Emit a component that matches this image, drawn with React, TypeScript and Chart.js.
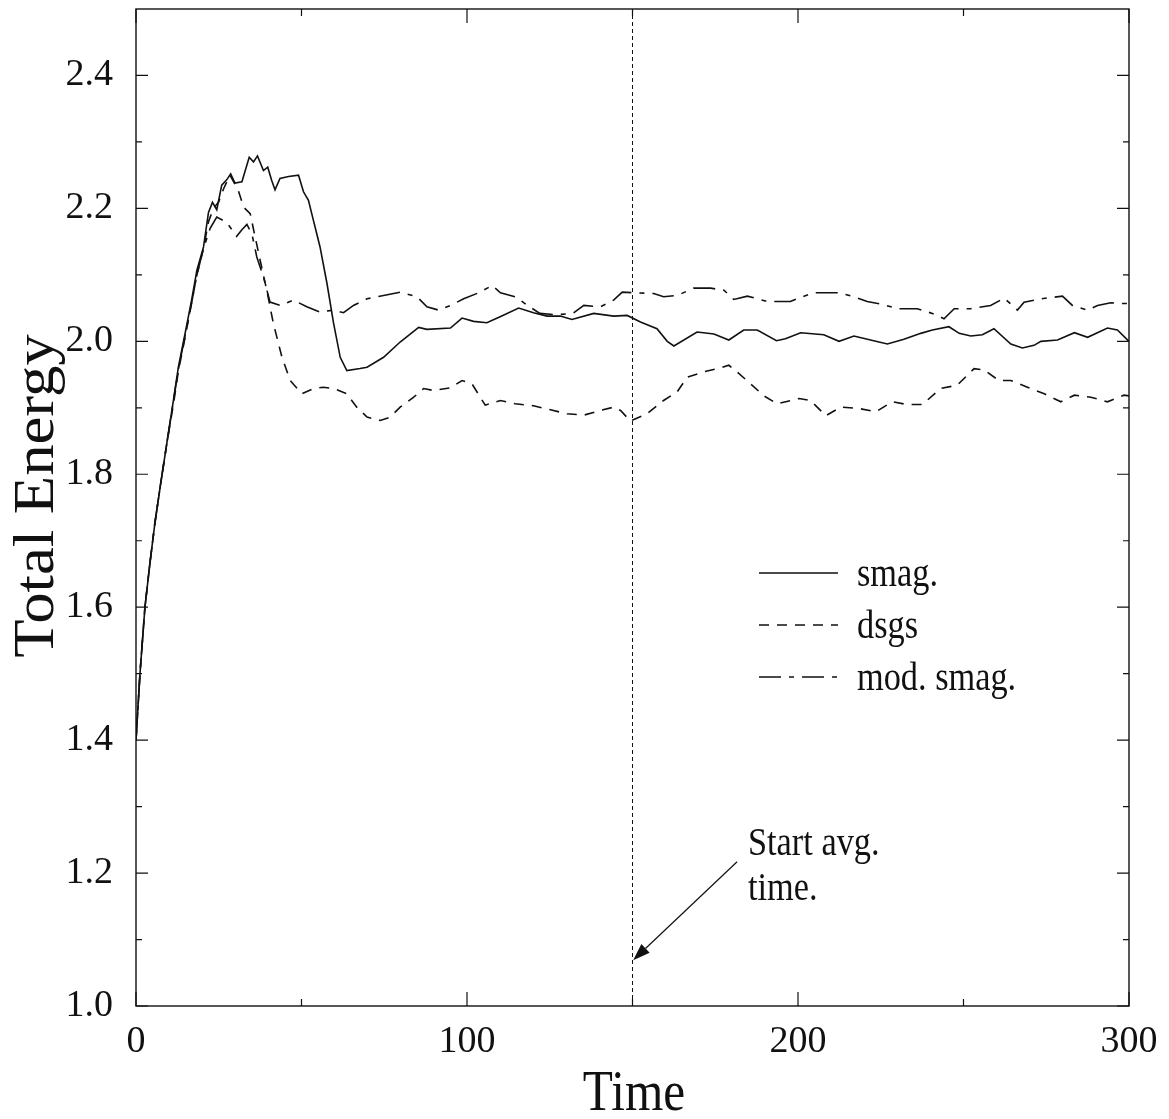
import React, { useEffect, useRef } from "react";
import { Chart, registerables } from "chart.js";

Chart.register(...registerables);

// ---------- data ----------
const smagTime = [0, 1.2, 2.7, 4.2, 5.7, 7.3, 9.3, 11.3, 12.8, 14.8, 16.8, 18.4, 20.4, 21.9, 23.1, 24.4, 25.9, 27.4, 28.6, 29.9, 32, 34.2, 35.5, 36.7, 38.5, 39.8, 41, 42, 43.5, 46.1, 49.1, 50.6, 52.1, 53.6, 55.6, 57.7, 59.7, 61.7, 63.7, 67.7, 69.8, 74.8, 79.8, 85.4, 87.9, 95, 98.5, 102, 106, 110, 115.6, 120.1, 124.2, 128.2, 131.7, 138.3, 144.3, 148.4, 152.4, 157.4, 160.5, 162.5, 169.5, 174.6, 179.1, 183.6, 187.7, 193.5, 196.2, 200.8, 207.8, 212.4, 216.9, 221.9, 227, 232, 237.1, 240.6, 245.6, 248.7, 252.2, 255.7, 259.2, 264.3, 267.8, 271.3, 273.4, 278.4, 283.5, 287.5, 293.5, 296.5, 300];
const smagEnergy = [1.40, 1.50, 1.60, 1.666, 1.726, 1.781, 1.846, 1.911, 1.961, 2.011, 2.062, 2.107, 2.142, 2.194, 2.209, 2.198, 2.235, 2.243, 2.252, 2.238, 2.24, 2.277, 2.27, 2.279, 2.257, 2.262, 2.242, 2.228, 2.245, 2.248, 2.25, 2.225, 2.212, 2.182, 2.142, 2.087, 2.027, 1.976, 1.956, 1.959, 1.961, 1.976, 1.999, 2.021, 2.018, 2.02, 2.035, 2.03, 2.028, 2.037, 2.05, 2.043, 2.038, 2.038, 2.033, 2.042, 2.038, 2.039, 2.029, 2.019, 2.0, 1.993, 2.014, 2.011, 2.002, 2.017, 2.017, 2.001, 2.004, 2.013, 2.01, 2.0, 2.008, 2.002, 1.996, 2.003, 2.012, 2.017, 2.022, 2.012, 2.008, 2.01, 2.019, 1.996, 1.99, 1.994, 2.0, 2.002, 2.013, 2.006, 2.02, 2.017, 2.0];

const dsgsTime = [0, 1.2, 2.7, 4.2, 5.7, 7.3, 9.3, 11.3, 12.8, 14.8, 16.8, 18.4, 20.4, 21.9, 23.4, 25, 26.5, 28.4, 30.9, 32.5, 34.5, 36, 37.5, 39.5, 41.5, 44.1, 46.6, 50.1, 53.6, 56.6, 59.7, 63.7, 66.7, 69.8, 73.8, 76.8, 79.8, 83.9, 86.9, 89.9, 95, 98.5, 101.5, 105.5, 110.1, 114.6, 120.1, 125.2, 130.2, 135.3, 140.3, 144.3, 146.4, 149.4, 154.4, 159.4, 163.5, 166.5, 171.5, 176.6, 179.1, 181.6, 185.7, 189.7, 193.7, 200.3, 203.8, 208.4, 212.9, 218.4, 223.5, 228.5, 233, 237.6, 243.1, 248.1, 253.2, 256.2, 260.7, 264.3, 269.3, 274.4, 279.4, 283.5, 288.5, 293.5, 298.5, 300];
const dsgsEnergy = [1.40, 1.50, 1.60, 1.666, 1.726, 1.781, 1.846, 1.905, 1.955, 2.005, 2.058, 2.1, 2.14, 2.18, 2.2, 2.21, 2.23, 2.25, 2.227, 2.202, 2.192, 2.157, 2.122, 2.077, 2.027, 1.976, 1.941, 1.921, 1.929, 1.931, 1.929, 1.921, 1.901, 1.886, 1.881, 1.886, 1.901, 1.916, 1.929, 1.926, 1.93, 1.941, 1.936, 1.904, 1.911, 1.906, 1.903, 1.897, 1.891, 1.889, 1.896, 1.901, 1.896, 1.88, 1.891, 1.911, 1.924, 1.946, 1.954, 1.96, 1.964, 1.954, 1.936, 1.918, 1.906, 1.914, 1.911, 1.888, 1.901, 1.899, 1.894, 1.909, 1.905, 1.905, 1.929, 1.934, 1.959, 1.957, 1.941, 1.941, 1.931, 1.921, 1.909, 1.919, 1.916, 1.909, 1.919, 1.918];

const modTime = [0, 1.2, 2.7, 4.2, 5.7, 7.3, 9.3, 11.3, 12.8, 14.8, 16.8, 18.4, 20.4, 22.4, 24.4, 27.4, 30.4, 32, 33.5, 35, 36.5, 38.5, 40.5, 43.5, 47.6, 51.6, 55.6, 59.7, 62.7, 65.7, 69.8, 74.8, 79.8, 84.9, 87.9, 91.4, 95, 99, 103.5, 107.6, 110.1, 114.6, 118, 122, 127, 132, 135.3, 140.3, 144.3, 146.9, 150.4, 156.4, 159.4, 163.5, 168.5, 173.6, 177.6, 180.6, 184.7, 190.7, 197.7, 201.3, 204.8, 212.4, 216.9, 220.9, 226, 230, 236, 240.6, 244.1, 247.2, 252.2, 258.2, 262.3, 266.3, 268.3, 273.4, 279.9, 282.9, 287.5, 290.5, 294.5, 298, 300];
const modEnergy = [1.40, 1.50, 1.60, 1.666, 1.726, 1.781, 1.846, 1.91, 1.958, 2.008, 2.058, 2.1, 2.14, 2.17, 2.187, 2.179, 2.158, 2.168, 2.176, 2.162, 2.127, 2.097, 2.059, 2.054, 2.062, 2.052, 2.044, 2.047, 2.043, 2.054, 2.064, 2.069, 2.074, 2.067, 2.052, 2.047, 2.054, 2.064, 2.073, 2.084, 2.073, 2.067, 2.055, 2.042, 2.04, 2.042, 2.054, 2.052, 2.062, 2.074, 2.073, 2.072, 2.067, 2.069, 2.08, 2.08, 2.077, 2.063, 2.068, 2.06, 2.06, 2.067, 2.073, 2.073, 2.067, 2.06, 2.055, 2.049, 2.049, 2.042, 2.034, 2.049, 2.049, 2.054, 2.065, 2.047, 2.059, 2.064, 2.068, 2.054, 2.047, 2.054, 2.058, 2.057, 2.057];

const seriesLabels = ["smag.", "dsgs", "mod. smag."];
const xTickValues = [0, 100, 200, 300];
const xMinorTicks = [50, 150, 250];
const yTickValues = [1.0, 1.2, 1.4, 1.6, 1.8, 2.0, 2.2, 2.4];
const yMinorTicks = [1.1, 1.3, 1.5, 1.7, 1.9, 2.1, 2.3];
const startAvgTime = 150;
const startLineRange = [1.0, 2.5];
const arrowTail = { x: 181.6, y: 1.217 };
const arrowTip = { x: 150.2, y: 1.069 };
const annotationLines = ["Start avg.", "time."];

const FONT = '"Liberation Serif", "Times New Roman", serif';
const INK = "#111";

const dashes: number[][] = [[], [10, 8], [22, 8, 5, 8]];

function toPoints(t: number[], e: number[]) {
  return t.map((v, i) => ({ x: v, y: e[i] }));
}

function drawScaledText(
  ctx: CanvasRenderingContext2D,
  text: string,
  x: number,
  y: number,
  size: number,
  sx: number,
  align: CanvasTextAlign,
  rotate = 0
) {
  ctx.save();
  ctx.translate(x, y);
  if (rotate) ctx.rotate(rotate);
  ctx.scale(sx, 1);
  ctx.font = `${size}px ${FONT}`;
  ctx.textAlign = align;
  ctx.textBaseline = "alphabetic";
  ctx.fillStyle = INK;
  ctx.fillText(text, 0, 0);
  ctx.restore();
}

const decorPlugin = {
  id: "decor",
  afterDatasetsDraw(chart: any) {
    const { ctx, chartArea: a, scales } = chart;
    const xs = scales.x;
    const ys = scales.y;
    ctx.save();
    // frame
    ctx.strokeStyle = INK;
    ctx.lineWidth = 1.4;
    ctx.setLineDash([]);
    ctx.strokeRect(a.left, a.top, a.right - a.left, a.bottom - a.top);
    // inward ticks
    ctx.lineWidth = 1.2;
    ctx.beginPath();
    const yTick = (v: number, len: number) => {
      const p = ys.getPixelForValue(v);
      ctx.moveTo(a.left, p);
      ctx.lineTo(a.left + len, p);
      ctx.moveTo(a.right, p);
      ctx.lineTo(a.right - len, p);
    };
    const xTick = (v: number, len: number) => {
      const p = xs.getPixelForValue(v);
      ctx.moveTo(p, a.bottom);
      ctx.lineTo(p, a.bottom - len);
      ctx.moveTo(p, a.top);
      ctx.lineTo(p, a.top + len);
    };
    yTickValues.forEach((v) => yTick(v, 12));
    yMinorTicks.forEach((v) => yTick(v, 6));
    xTickValues.forEach((v) => xTick(v, 14));
    xMinorTicks.forEach((v) => xTick(v, 7));
    ctx.stroke();

    // arrow
    const tx = xs.getPixelForValue(arrowTail.x);
    const ty = ys.getPixelForValue(arrowTail.y);
    const hx = xs.getPixelForValue(arrowTip.x);
    const hy = ys.getPixelForValue(arrowTip.y);
    const ang = Math.atan2(hy - ty, hx - tx);
    const headLen = 17;
    const headHalf = 6;
    const bx = hx - headLen * Math.cos(ang);
    const by = hy - headLen * Math.sin(ang);
    ctx.lineWidth = 1.2;
    ctx.beginPath();
    ctx.moveTo(tx, ty);
    ctx.lineTo(bx, by);
    ctx.stroke();
    ctx.fillStyle = INK;
    ctx.beginPath();
    ctx.moveTo(hx, hy);
    ctx.lineTo(bx + headHalf * Math.sin(ang), by - headHalf * Math.cos(ang));
    ctx.lineTo(bx - headHalf * Math.sin(ang), by + headHalf * Math.cos(ang));
    ctx.closePath();
    ctx.fill();

    // annotation text
    drawScaledText(ctx, annotationLines[0], 748, 855, 39, 0.88, "left");
    drawScaledText(ctx, annotationLines[1], 748, 900, 39, 0.88, "left");

    // legend
    const legendY = [573, 625, 677];
    seriesLabels.forEach((lab, i) => {
      ctx.save();
      ctx.strokeStyle = INK;
      ctx.lineWidth = 1.5;
      ctx.setLineDash(dashes[i]);
      ctx.beginPath();
      ctx.moveTo(759, legendY[i]);
      ctx.lineTo(838, legendY[i]);
      ctx.stroke();
      ctx.restore();
      drawScaledText(ctx, lab, 857, legendY[i] + 13, 39, 0.88, "left");
    });

    // axis titles
    drawScaledText(ctx, "Time", 634, 1110, 56, 0.88, "center");
    drawScaledText(ctx, "Total Energy", 53, 496, 57, 1.1, "center", -Math.PI / 2);
    ctx.restore();
  },
};

export default function App() {
  const ref = useRef<HTMLCanvasElement | null>(null);

  useEffect(() => {
    if (!ref.current) return;
    const lineCommon = {
      pointRadius: 0,
      borderColor: INK,
      borderWidth: 1.6,
      tension: 0,
      fill: false,
    };
    const hiddenGrid = (len: number) => ({
      display: true,
      drawOnChartArea: false,
      drawTicks: true,
      tickLength: len,
      color: "rgba(0,0,0,0)",
      tickColor: "rgba(0,0,0,0)",
    });
    const chart = new Chart(ref.current, {
      type: "line",
      data: {
        datasets: [
          {
            ...lineCommon,
            label: seriesLabels[1],
            data: toPoints(dsgsTime, dsgsEnergy),
            borderDash: dashes[1],
          },
          {
            ...lineCommon,
            label: seriesLabels[2],
            data: toPoints(modTime, modEnergy),
            borderDash: dashes[2],
          },
          {
            ...lineCommon,
            label: seriesLabels[0],
            data: toPoints(smagTime, smagEnergy),
          },
          {
            ...lineCommon,
            label: "start",
            data: [
              { x: startAvgTime, y: startLineRange[0] },
              { x: startAvgTime, y: startLineRange[1] },
            ],
            borderWidth: 1,
            borderDash: [4, 3],
          },
        ],
      },
      options: {
        animation: false,
        responsive: false,
        maintainAspectRatio: false,
        layout: { padding: { left: 0, right: 40, top: 9, bottom: 0 } },
        plugins: {
          legend: { display: false },
          tooltip: { enabled: false },
          title: { display: false },
        },
        scales: {
          x: {
            type: "linear",
            min: 0,
            max: 300,
            grid: hiddenGrid(13),
            border: { display: false },
            afterBuildTicks: (s: any) => {
              s.ticks = xTickValues.map((v) => ({ value: v }));
            },
            afterFit: (s: any) => {
              s.height = 113;
            },
            ticks: {
              color: INK,
              padding: 0,
              maxRotation: 0,
              autoSkip: false,
              font: { family: FONT, size: 38, lineHeight: 1.2 },
              callback: (v: any) => String(v),
            },
          },
          y: {
            type: "linear",
            min: 1.0,
            max: 2.5,
            grid: hiddenGrid(23),
            border: { display: false },
            afterBuildTicks: (s: any) => {
              s.ticks = yTickValues.map((v) => ({ value: v }));
            },
            afterFit: (s: any) => {
              s.width = 136;
            },
            ticks: {
              color: INK,
              padding: 0,
              autoSkip: false,
              font: { family: FONT, size: 38, lineHeight: 0.3 },
              callback: (v: any) => Number(v).toFixed(1),
            },
          },
        },
      },
      plugins: [decorPlugin],
    } as any);
    return () => chart.destroy();
  }, []);

  return (
    <div style={{ position: "absolute", left: 0, top: 0, width: 1169, height: 1119, background: "#fff" }}>
      <canvas ref={ref} width={1169} height={1119} style={{ display: "block" }} />
    </div>
  );
}
